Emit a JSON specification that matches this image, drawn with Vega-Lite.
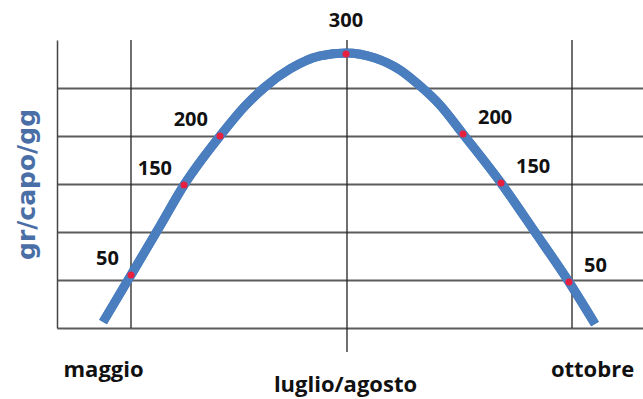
{
  "$schema": "https://vega.github.io/schema/vega-lite/v6.json",
  "width": 586,
  "height": 288,
  "autosize": {"type": "none"},
  "padding": {"left": 57, "top": 40, "right": 0, "bottom": 71},
  "background": "white",
  "config": {"view": {"stroke": null}},
  "datasets": {
    "curva": [
      {"mese": 4.683, "livello": 0.125},
      {"mese": 5.0, "livello": 1.104},
      {"mese": 5.329, "livello": 2.125},
      {"mese": 5.601, "livello": 2.979},
      {"mese": 6.009, "livello": 4.0},
      {"mese": 6.293, "livello": 4.625},
      {"mese": 6.519, "livello": 5.021},
      {"mese": 6.803, "livello": 5.396},
      {"mese": 7.143, "livello": 5.667},
      {"mese": 7.438, "livello": 5.729},
      {"mese": 7.766, "livello": 5.625},
      {"mese": 8.05, "livello": 5.375},
      {"mese": 8.277, "livello": 5.042},
      {"mese": 8.503, "livello": 4.646},
      {"mese": 8.764, "livello": 4.042},
      {"mese": 9.195, "livello": 3.021},
      {"mese": 9.58, "livello": 2.0},
      {"mese": 9.966, "livello": 0.958},
      {"mese": 10.261, "livello": 0.083}
    ],
    "punti": [
      {"mese": 5.0, "livello": 1.104, "valore": 50, "lato": "sinistra"},
      {"mese": 5.601, "livello": 2.979, "valore": 150, "lato": "sinistra"},
      {"mese": 6.009, "livello": 4.0, "valore": 200, "lato": "sinistra"},
      {"mese": 7.438, "livello": 5.708, "valore": 300, "lato": "centro"},
      {"mese": 8.764, "livello": 4.042, "valore": 200, "lato": "destra"},
      {"mese": 9.195, "livello": 3.021, "valore": 150, "lato": "destra"},
      {"mese": 9.966, "livello": 0.958, "valore": 50, "lato": "destra"}
    ],
    "verticali": [
      {"mese": 5.0},
      {"mese": 7.449},
      {"mese": 10.0}
    ],
    "tacca": [
      {"mese": 7.449, "livello": 0, "a": -0.5}
    ]
  },
  "layer": [
    {
      "data": {"name": "curva"},
      "mark": {"type": "line", "color": "#4a7ebf", "strokeWidth": 9, "strokeCap": "butt", "interpolate": "monotone"},
      "encoding": {
        "x": {
          "field": "mese", "type": "quantitative",
          "scale": {"domain": [4.161, 10.805], "nice": false, "zero": false},
          "axis": {
            "title": null,
            "values": [4.683, 7.426, 10.227],
            "labelExpr": "datum.value < 6 ? 'maggio' : (datum.value < 9 ? 'luglio/agosto' : 'ottobre')",
            "labelPadding": {"condition": {"test": "datum.value > 6 && datum.value < 9", "value": 63}, "value": 48},
            "labelBaseline": "alphabetic",
            "labelFont": "Open Sans",
            "labelFontSize": 22,
            "labelFontWeight": "bold",
            "labelColor": "#111111",
            "labelFlush": false,
            "labelOverlap": false,
            "labelBound": false,
            "ticks": false,
            "grid": false,
            "domainColor": "#5c5c5c",
            "domainWidth": 2
          }
        },
        "y": {
          "field": "livello", "type": "quantitative",
          "scale": {"domain": [0, 6], "nice": false},
          "axis": {
            "title": "gr/capo/gg",
            "titleFont": "DejaVu Sans",
            "titleFontSize": 25,
            "titleFontWeight": "bold",
            "titleColor": "#4a6ea6",
            "titlePadding": 18,
            "values": [1, 2, 3, 4, 5],
            "labels": false,
            "ticks": false,
            "grid": true,
            "gridColor": "#5c5c5c",
            "gridWidth": 2,
            "domainColor": "#444444",
            "domainWidth": 1.5
          }
        }
      }
    },
    {
      "data": {"name": "verticali"},
      "mark": {"type": "rule", "color": "#222222", "strokeWidth": 1.3},
      "encoding": {
        "x": {"field": "mese", "type": "quantitative"}
      }
    },
    {
      "data": {"name": "tacca"},
      "mark": {"type": "rule", "color": "#222222", "strokeWidth": 1.3},
      "encoding": {
        "x": {"field": "mese", "type": "quantitative"},
        "y": {"field": "livello", "type": "quantitative"},
        "y2": {"field": "a"}
      }
    },
    {
      "data": {"name": "curva"},
      "mark": {"type": "line", "color": "#4a7ebf", "strokeWidth": 9, "strokeCap": "butt", "interpolate": "monotone"},
      "encoding": {
        "x": {"field": "mese", "type": "quantitative"},
        "y": {"field": "livello", "type": "quantitative"}
      }
    },
    {
      "data": {"name": "punti"},
      "mark": {"type": "point", "filled": true, "color": "#e8203f", "size": 50, "opacity": 1},
      "encoding": {
        "x": {"field": "mese", "type": "quantitative"},
        "y": {"field": "livello", "type": "quantitative"}
      }
    },
    {
      "data": {"name": "punti"},
      "transform": [{"filter": "datum.lato == 'sinistra'"}],
      "mark": {"type": "text", "align": "right", "baseline": "alphabetic", "dx": -12, "dy": -10, "font": "Open Sans", "fontSize": 20, "fontWeight": "bold", "color": "#111111"},
      "encoding": {
        "x": {"field": "mese", "type": "quantitative"},
        "y": {"field": "livello", "type": "quantitative"},
        "text": {"field": "valore", "type": "quantitative"}
      }
    },
    {
      "data": {"name": "punti"},
      "transform": [{"filter": "datum.lato == 'destra'"}],
      "mark": {"type": "text", "align": "left", "baseline": "alphabetic", "dx": 15, "dy": -10, "font": "Open Sans", "fontSize": 20, "fontWeight": "bold", "color": "#111111"},
      "encoding": {
        "x": {"field": "mese", "type": "quantitative"},
        "y": {"field": "livello", "type": "quantitative"},
        "text": {"field": "valore", "type": "quantitative"}
      }
    },
    {
      "data": {"name": "punti"},
      "transform": [{"filter": "datum.lato == 'centro'"}],
      "mark": {"type": "text", "align": "center", "baseline": "alphabetic", "dy": -27, "font": "Open Sans", "fontSize": 20, "fontWeight": "bold", "color": "#111111"},
      "encoding": {
        "x": {"field": "mese", "type": "quantitative"},
        "y": {"field": "livello", "type": "quantitative"},
        "text": {"field": "valore", "type": "quantitative"}
      }
    }
  ]
}
